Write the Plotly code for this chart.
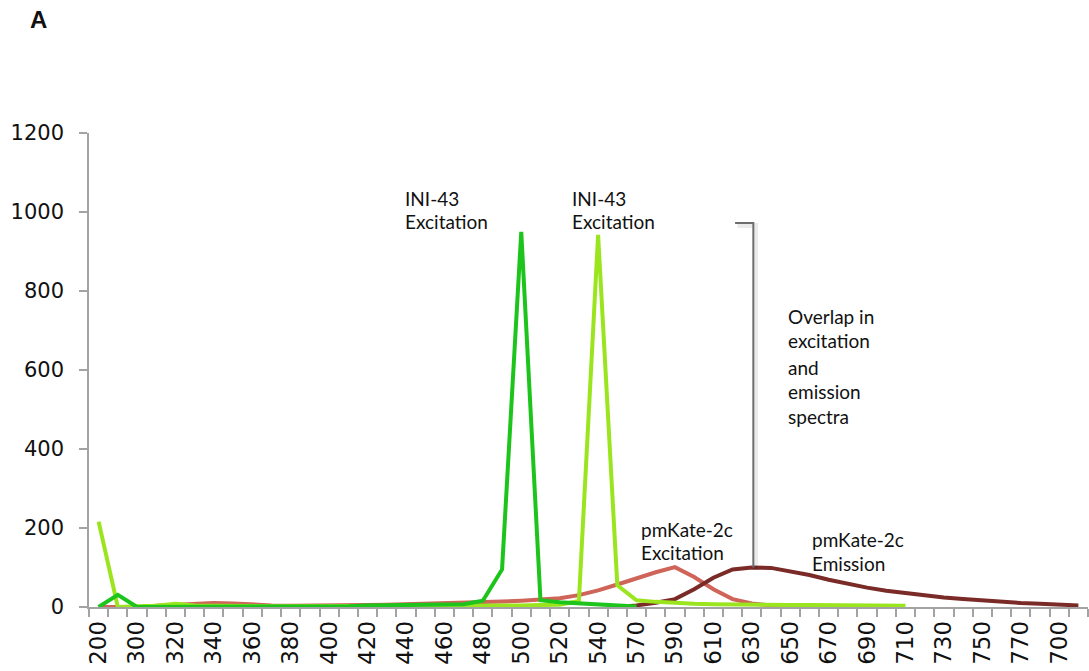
import plotly.graph_objects as go

# Wavelength categories (nm); only every other label is printed on the axis
wavelengths = ["200", "290", "300", "310", "320", "330", "340", "350", "360", "370",
               "380", "390", "400", "410", "420", "430", "440", "450", "460", "470",
               "480", "490", "500", "510", "520", "530", "540", "560", "570", "580",
               "590", "600", "610", "620", "630", "640", "650", "660", "670", "680",
               "690", "700", "710", "720", "730", "740", "750", "760", "770", "780",
               "700", "800"]

# INI-43 excitation (first scan), 200-570 nm
ini43_exc_a = [0, 31, 0, 0, 0, 0, 0, 0, 0, 0, 0, 1, 1, 2, 4, 5, 5, 6, 6, 7,
               16, 95, 950, 17, 12, 9, 6, 3, 1]

# INI-43 excitation (second scan), 200-710 nm
ini43_exc_b = [216, 0, 2, 3, 8, 4, 3, 2, 2, 2, 2, 2, 3, 3, 3, 3, 3, 3, 3, 4,
               4, 4, 4, 5, 6, 15, 942, 55, 17, 13, 10, 8, 7, 6, 6, 5, 5, 5, 5, 4,
               4, 5, 3]

# pmKate-2c excitation, 200-650 nm
pmkate_exc = [0, 0, 0, 3, 6, 9, 10, 9, 6, 4, 3, 3, 3, 4, 5, 6, 7, 8, 9, 10,
              12, 14, 16, 18, 22, 30, 42, 57, 73, 88, 101, 76, 45, 20, 9, 4, 2]

# pmKate-2c emission, starting at 560 nm
pmkate_em_start = 27
pmkate_em = [0, 4, 11, 20, 45, 74, 95, 100, 99, 91, 81, 69, 58, 49, 41, 35, 29,
             24, 20, 16, 13, 10, 8, 6, 4]

y_ticks = [0, 200, 400, 600, 800, 1000, 1200]

n = len(wavelengths)
idx = list(range(n))

# Plot-area geometry in pixels (used to place free text)
W, H = 1089, 671
L, R, T, B = 89, 1, 133, 64
PW, PH = W - L - R, H - T - B


def px(x):
    return (x - L) / PW


def py(y):
    return (H - B - y) / PH


fig = go.Figure()

series = [
    (list(range(len(pmkate_exc))), pmkate_exc, "#CF6459", "pmKate-2c Excitation"),
    (list(range(pmkate_em_start, pmkate_em_start + len(pmkate_em))), pmkate_em,
     "#7A2A27", "pmKate-2c Emission"),
    (list(range(len(ini43_exc_b))), ini43_exc_b, "#9BE51E", "INI-43 Excitation"),
    (list(range(len(ini43_exc_a))), ini43_exc_a, "#1CC41C", "INI-43 Excitation"),
]
for xs, ys, color, name in series:
    fig.add_trace(go.Scatter(
        x=xs, y=ys, mode="lines", name=name,
        line=dict(color=color, width=4),
        showlegend=False, hoverinfo="x+y",
    ))

# Bracket marking the overlap between pmKate-2c excitation and emission
bx0, bx1 = 33.13, 34.08
by0, by1 = 972, 100
fig.add_shape(type="path", xref="x", yref="y",
              path=f"M {bx0 + 0.12},{by0 - 6} L {bx1 + 0.12},{by0 - 6} L {bx1 + 0.12},{by1 - 6}",
              line=dict(color="rgba(0,0,0,0.08)", width=5))
fig.add_shape(type="path", xref="x", yref="y",
              path=f"M {bx0},{by0} L {bx1},{by0} L {bx1},{by1}",
              line=dict(color="#6e6e6e", width=2))

text_font = dict(family="Lato, Noto Sans, sans-serif", size=19, color="#111111")
labels = [
    ("INI-43", 406, 205.7), ("Excitation", 406, 229.3),
    ("INI-43", 573.3, 205.7), ("Excitation", 573.3, 229.3),
    ("pmKate-2c", 641.7, 536.7), ("Excitation", 641.7, 560),
    ("pmKate-2c", 812.7, 546.7), ("Emission", 812.7, 570.7),
    ("Overlap in", 789.3, 324), ("excitation", 789.3, 347.7),
    ("and", 789.3, 375), ("emission", 789.3, 399), ("spectra", 789.3, 424),
]
for txt, lx, base in labels:
    fig.add_annotation(text=txt, xref="paper", yref="paper",
                       x=px(lx - 3), y=py(base - 7.5),
                       xanchor="left", yanchor="middle",
                       showarrow=False, font=text_font)

fig.add_annotation(text="<b>A</b>", xref="paper", yref="paper",
                   x=px(38), y=py(19), xanchor="center", yanchor="middle",
                   showarrow=False,
                   font=dict(family="Liberation Sans, Arial, sans-serif", size=24, color="#111111"))

axis_color = "#a3a3a3"
fig.update_xaxes(
    range=[-0.5, n - 0.5],
    tickmode="array",
    tickvals=idx[::2],
    ticktext=wavelengths[::2],
    tickangle=-90,
    ticks="",
    tickfont=dict(family="DejaVu Sans", size=23, color="#111111"),
    showline=True, linecolor=axis_color, linewidth=1.5,
    showgrid=False, zeroline=False, automargin=False,
    minor=dict(tickmode="linear", tick0=-0.5, dtick=1, ticks="outside",
               ticklen=8, tickwidth=1.5, tickcolor=axis_color),
    ticklabelstandoff=3,
)
fig.update_yaxes(
    range=[0, 1200],
    tickmode="array",
    tickvals=y_ticks,
    ticks="outside", ticklen=8, tickwidth=1.5, tickcolor=axis_color,
    tickfont=dict(family="DejaVu Sans", size=21, color="#111111"),
    showline=True, linecolor=axis_color, linewidth=1.5,
    showgrid=False, zeroline=False, automargin=False,
    ticklabelstandoff=11,
)
fig.update_layout(
    width=W, height=H,
    margin=dict(l=L, r=R, t=T, b=B),
    plot_bgcolor="white", paper_bgcolor="white",
    showlegend=False,
)

fig.write_html("out.html")
